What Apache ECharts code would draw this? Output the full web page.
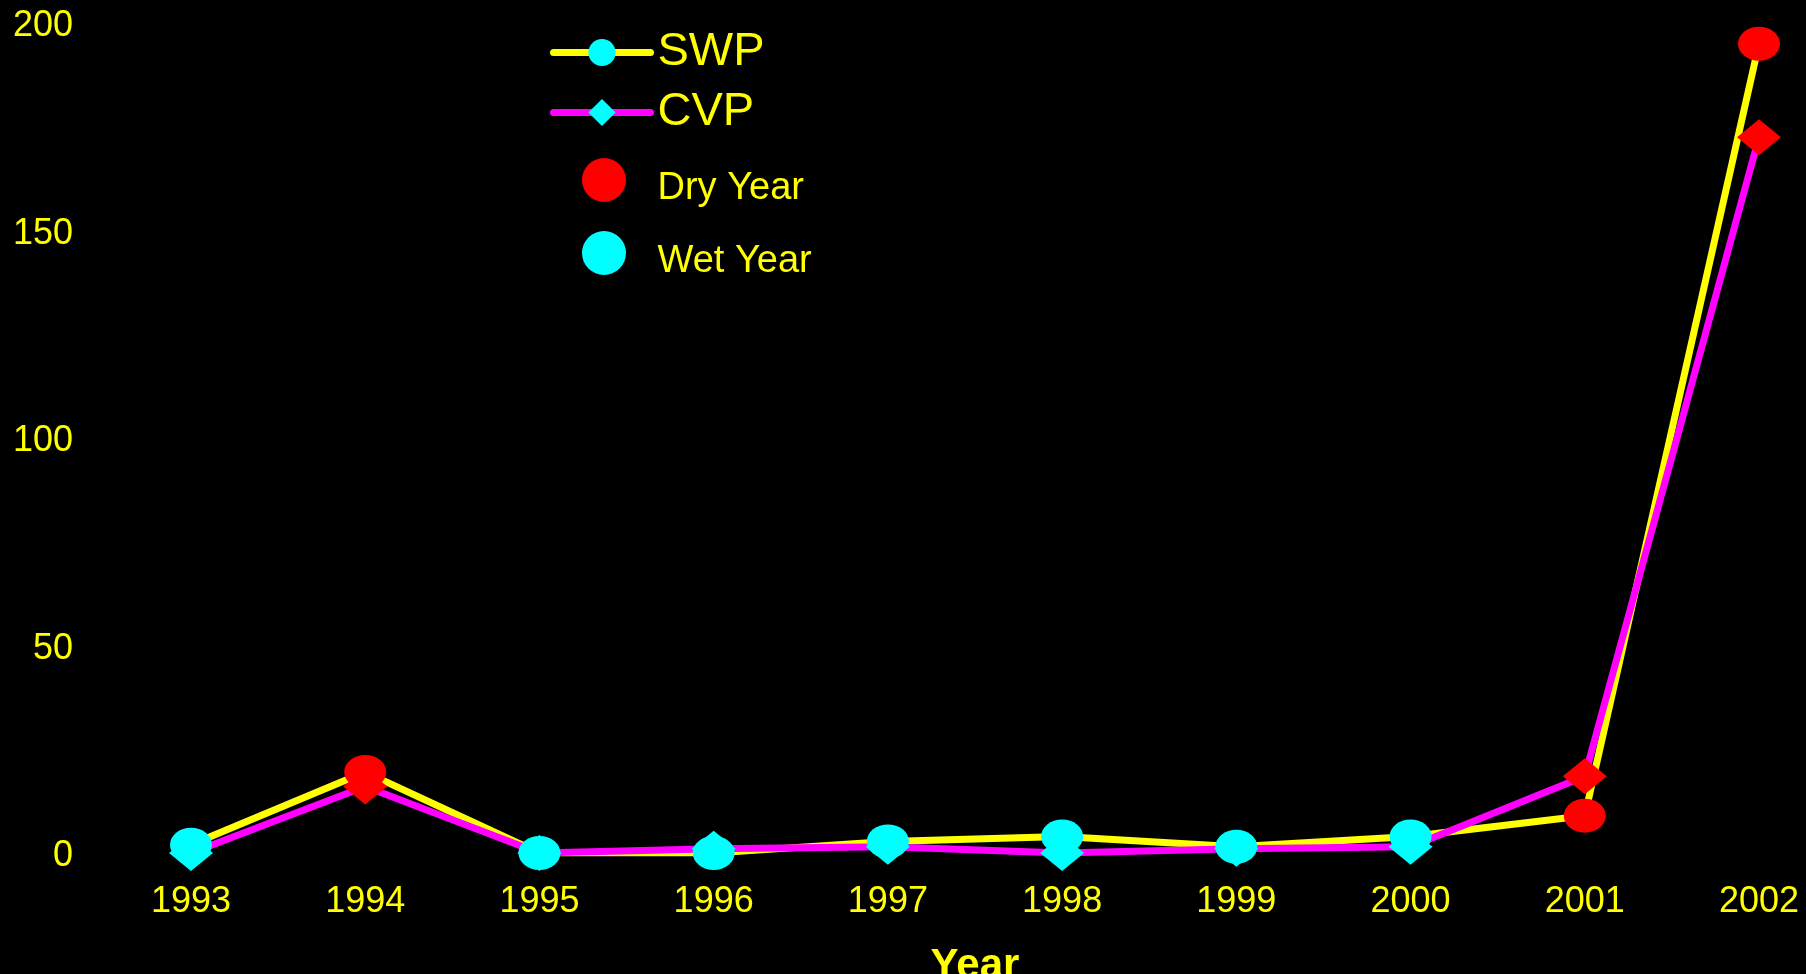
<!DOCTYPE html>
<html>
<head>
<meta charset="utf-8">
<script src="https://cdn.jsdelivr.net/npm/echarts@6/dist/echarts.min.js"></script>
<style>
  html, body { margin: 0; padding: 0; background: #000; }
  #chart { width: 1806px; height: 974px; }
</style>
</head>
<body>
<div id="chart"></div>
<script>
var years = ['1993', '1994', '1995', '1996', '1997', '1998', '1999', '2000', '2001', '2002']
var swp = [2, 19.5, 0, 0, 2.8, 4, 1.5, 4, 9, 195]
var cvp = [0, 16, 0, 1, 1.5, 0, 1, 1.5, 18.5, 172.5]
var yearType = ['wet', 'dry', 'wet', 'wet', 'wet', 'wet', 'wet', 'wet', 'dry', 'dry']
var yTicks = [0, 50, 100, 150, 200]

var font = 'Liberation Sans, Arial, sans-serif'
var yellow = '#ffff00'

// markers split by year type, diamonds (CVP) first so circles sit on top
var dryPts = []
var wetPts = []
for (var i = 0; i < years.length; i++) {
  var target = yearType[i] === 'dry' ? dryPts : wetPts
  target.push({ value: [years[i], cvp[i]], symbol: 'diamond', symbolSize: [44, 36] })
}
for (var i = 0; i < years.length; i++) {
  var target = yearType[i] === 'dry' ? dryPts : wetPts
  target.push({ value: [years[i], swp[i]], symbol: 'circle', symbolSize: [42, 34] })
}

var chart = echarts.init(document.getElementById('chart'))
var option = {
  backgroundColor: '#000',
  animation: false,
  textStyle: { fontFamily: font },
  grid: { left: 191, right: 47, top: 23, bottom: 121, containLabel: false, outerBoundsMode: 'none' },
  legend: [
    {
      data: ['SWP', 'CVP'],
      orient: 'vertical',
      left: 550,
      top: 29,
      padding: 0,
      itemWidth: 97,
      itemHeight: 34,
      itemGap: 13,
      lineStyle: { width: 7, cap: 'round' },
      textStyle: { color: yellow, fontSize: 47, lineHeight: 42, fontFamily: font, padding: [0, 0, 0, 2] }
    },
    {
      data: ['Dry Year', 'Wet Year'],
      orient: 'vertical',
      left: 582,
      top: 152,
      padding: 0,
      icon: 'circle',
      itemWidth: 97,
      itemHeight: 44,
      itemGap: 17,
      formatter: function (name) { return '{t|' + name + '}' },
      textStyle: {
        color: yellow, fontSize: 38, fontFamily: font,
        rich: { t: { color: yellow, fontSize: 38, fontFamily: font, lineHeight: 40, padding: [18, 0, 0, 0] } }
      }
    }
  ],
  xAxis: {
    type: 'category',
    data: years,
    boundaryGap: false,
    axisLine: { show: false },
    axisTick: { show: false },
    splitLine: { show: false },
    axisLabel: { color: yellow, fontSize: 36, margin: 31, fontFamily: font },
    name: 'Year',
    nameLocation: 'middle',
    nameGap: 92,
    nameTextStyle: { color: yellow, fontSize: 42, fontWeight: 'bold', fontFamily: font }
  },
  yAxis: {
    type: 'value',
    min: yTicks[0],
    max: yTicks[yTicks.length - 1],
    interval: 50,
    axisLine: { show: false },
    axisTick: { show: false },
    splitLine: { show: false },
    axisLabel: {
      color: yellow, fontSize: 36, margin: 118, fontFamily: font,
      formatter: '{v|{value}}',
      rich: { v: { color: yellow, fontSize: 36, fontFamily: font, lineHeight: 36, padding: [7, 0, 0, 0] } }
    }
  },
  series: [
    {
      name: 'SWP',
      type: 'line',
      data: swp,
      symbol: 'circle',
      showSymbol: false,
      lineStyle: { color: yellow, width: 7 },
      itemStyle: { color: '#00ffff' },
      z: 2
    },
    {
      name: 'CVP',
      type: 'line',
      data: cvp,
      symbol: 'diamond',
      showSymbol: false,
      lineStyle: { color: '#ff00ff', width: 7 },
      itemStyle: { color: '#00ffff' },
      z: 3
    },
    {
      name: 'Dry Year',
      type: 'scatter',
      data: dryPts,
      itemStyle: { color: '#ff0000', opacity: 1 },
      z: 4
    },
    {
      name: 'Wet Year',
      type: 'scatter',
      data: wetPts,
      itemStyle: { color: '#00ffff', opacity: 1 },
      z: 4
    }
  ]
}
chart.setOption(option)
</script>
</body>
</html>
